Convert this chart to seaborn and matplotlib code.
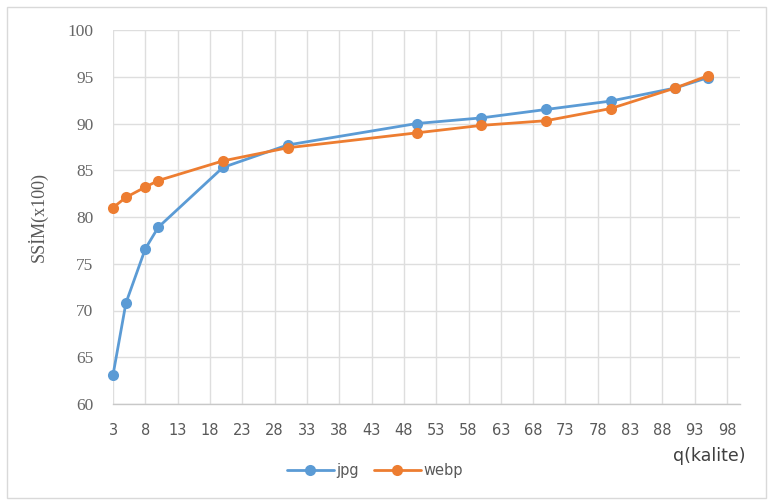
import matplotlib
matplotlib.use("Agg")
import matplotlib.pyplot as plt
from matplotlib.patches import Rectangle
import numpy as np
import pandas as pd
import seaborn as sns

# Quality settings and SSIM scores (x100) per codec
quality = [3, 5, 8, 10, 20, 30, 50, 60, 70, 80, 90, 95]
ssim_jpg = [63.1, 70.8, 76.6, 78.9, 85.3, 87.7, 90.0, 90.6, 91.5, 92.4, 93.8, 94.9]
ssim_webp = [81.0, 82.1, 83.2, 83.9, 86.0, 87.4, 89.0, 89.8, 90.3, 91.6, 93.8, 95.1]

series_names = ["jpg", "webp"]
series_colors = {"jpg": "#5B9BD5", "webp": "#ED7D31"}

x_ticks = list(range(3, 99, 5))
y_ticks = list(range(60, 101, 5))

df = pd.DataFrame({
    "q": quality * 2,
    "ssim": ssim_jpg + ssim_webp,
    "codec": ["jpg"] * len(quality) + ["webp"] * len(quality),
})

sns.set_style("white")
plt.rcParams["font.family"] = ["DejaVu Sans"]

fig = plt.figure(figsize=(7.72, 5.0), dpi=100)
ax = fig.add_axes([113 / 772, 1 - 404 / 500, (740 - 113) / 772, (404 - 30) / 500])

sns.lineplot(
    data=df, x="q", y="ssim", hue="codec", hue_order=series_names,
    palette=series_colors, marker="o", markersize=8, linewidth=2,
    markeredgewidth=0, ax=ax, legend=True, zorder=3, clip_on=False,
)

ax.set_xlim(3, 100)
ax.set_ylim(60, 100)
ax.set_xticks(x_ticks)
ax.set_yticks(y_ticks)
ax.grid(True, color="#DEDEDE", linewidth=1)
ax.set_axisbelow(True)

for side in ["top", "right", "left"]:
    ax.spines[side].set_visible(False)
ax.spines["bottom"].set_color("#C8C8C8")
ax.spines["bottom"].set_linewidth(1)

ax.tick_params(axis="both", length=0)
ax.tick_params(axis="x", labelsize=10.5, labelcolor="#595959", pad=14)
ax.tick_params(axis="y", labelsize=11, labelcolor="#666666", pad=14)
for lbl in ax.get_yticklabels():
    lbl.set_fontfamily("Liberation Serif")
    lbl.set_fontsize(12.5)

ax.set_xlabel("")
ax.set_ylabel("SSİM(x100)", fontfamily="Liberation Serif", fontsize=13,
              color="#595959", labelpad=14)

fig.text(745 / 772, 1 - 456 / 500, "q(kalite)", ha="right", va="center",
         fontsize=12.5, color="#404040")

handles, labels = ax.get_legend_handles_labels()
ax.legend_.remove()
fig.legend(handles, labels, loc="center", bbox_to_anchor=(375 / 772, 1 - 471 / 500),
           ncol=2, frameon=False, fontsize=10.5, labelcolor="#595959",
           handlelength=3.2, handletextpad=0.2, columnspacing=1.0)

# light frame around the chart area
fig.patches.append(Rectangle((7 / 772, 2 / 500), 759 / 772, 491 / 500,
                             transform=fig.transFigure, fill=False,
                             edgecolor="#D9D9D9", linewidth=1))

fig.savefig("out.png", dpi=100)
